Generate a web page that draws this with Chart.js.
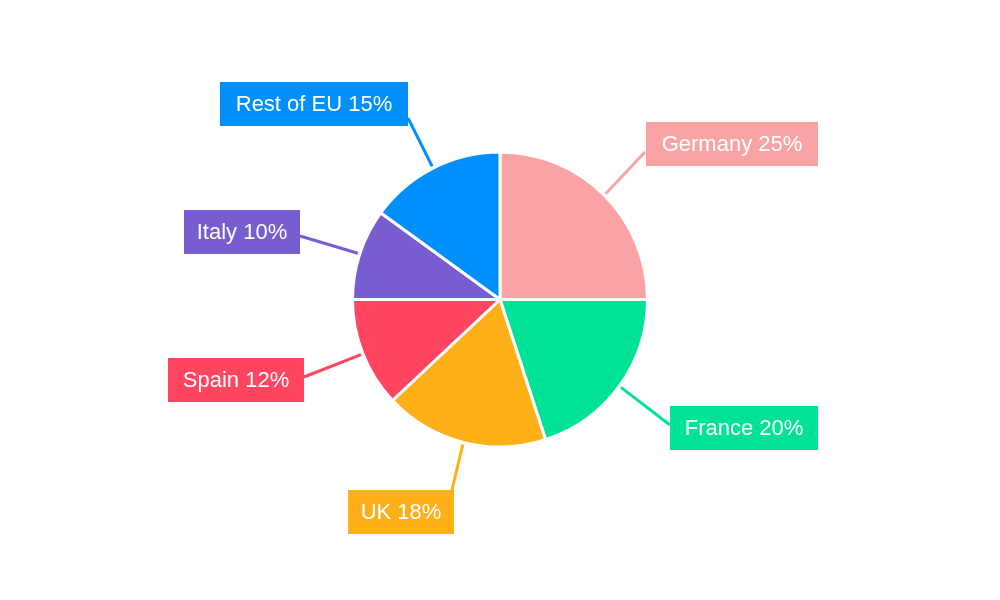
<!DOCTYPE html><html><head><script src="https://cdn.jsdelivr.net/npm/chart.js@4"></script>
<style>body{margin:0;background:#fff}#w{width:1000px;height:600px}</style></head><body><div id="w"><canvas id="c"></canvas></div>
<script>
const categories=["Germany","France","UK","Spain","Italy","Rest of EU"];
const shares=[25,20,18,12,10,15];
const colors=["#F9A3A4","#00E396","#FEB019","#FF4560","#775DD0","#008FFB"];
// label boxes: [left, top, right, bottom, lineEndX, lineEndY]
const boxes=[[646,122,818,166,645,152],[670,406,818,450,670,425],[348,490,454,534,452,490],[168,358,304,402,304,377],[184,210,300,254,300,236],[220,82,408,126,408,118]];
const lab={id:'lab',afterDraw(ch){const ctx=ch.ctx;const m=ch.getDatasetMeta(0);
m.data.forEach((a,i)=>{const mid=(a.startAngle+a.endAngle)/2;const r=a.outerRadius+2;
const sx=a.x+Math.cos(mid)*r,sy=a.y+Math.sin(mid)*r;const b=boxes[i];
ctx.save();ctx.strokeStyle=colors[i];ctx.lineWidth=3;ctx.beginPath();ctx.moveTo(sx,sy);ctx.lineTo(b[4],b[5]);ctx.stroke();
ctx.fillStyle=colors[i];ctx.fillRect(b[0],b[1],b[2]-b[0],b[3]-b[1]);
ctx.fillStyle='#fff';ctx.font='22px "Liberation Sans", Arial';ctx.textAlign='center';ctx.textBaseline='middle';
ctx.fillText(categories[i]+' '+shares[i]+'%',(b[0]+b[2])/2,(b[1]+b[3])/2+1);ctx.restore();});}};
new Chart(document.getElementById('c'),{type:'pie',data:{labels:categories,datasets:[{data:shares,backgroundColor:colors,borderColor:'#fff',borderWidth:3}]},
options:{responsive:true,maintainAspectRatio:false,animation:false,layout:{padding:{top:150,bottom:151,left:351,right:351}},
plugins:{legend:{display:false},tooltip:{enabled:false}}},plugins:[lab]});
</script></body></html>
